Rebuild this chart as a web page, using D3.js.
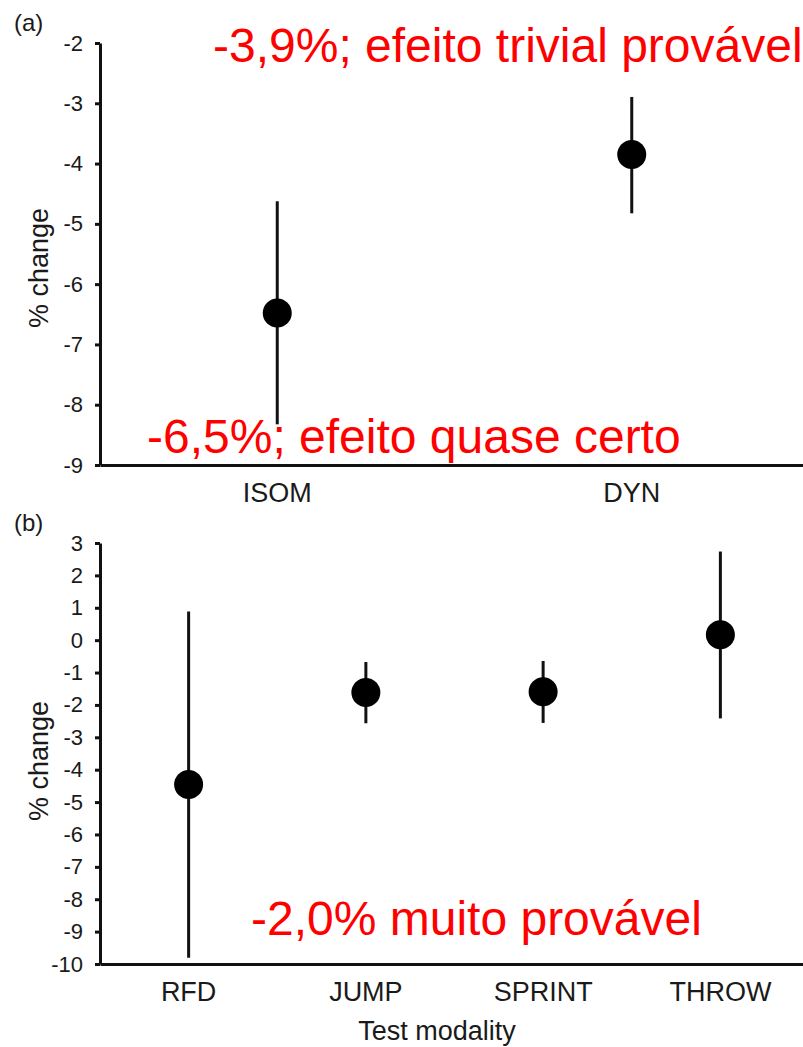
<!DOCTYPE html>
<html>
<head>
<meta charset="utf-8">
<script src="https://cdn.jsdelivr.net/npm/d3@7"></script>
<style>
  body { margin: 0; background: #fff; }
  svg { display: block; font-family: "Liberation Sans", Arial, sans-serif; }
  .axis path, .axis line { stroke: #111; stroke-width: 3px; }
  .axis text { fill: #1a1a1a; }
</style>
</head>
<body>
<div id="chart"></div>
<script>
// panel (a): isometric vs dynamic
const catsA = ["ISOM", "DYN"];
const meanA = [-6.48, -3.85];
const lowA = [-8.30, -4.80];
const highA = [-4.65, -2.92];
const ticksA = [-2, -3, -4, -5, -6, -7, -8, -9];

// panel (b): test modality
const catsB = ["RFD", "JUMP", "SPRINT", "THROW"];
const meanB = [-4.46, -1.62, -1.59, 0.17];
const lowB = [-9.76, -2.52, -2.51, -2.37];
const highB = [0.84, -0.72, -0.69, 2.69];
const ticksB = [3, 2, 1, 0, -1, -2, -3, -4, -5, -6, -7, -8, -9, -10];

const W = 803, H = 1047;

const svg = d3.select("#chart").append("svg")
    .attr("width", W)
    .attr("height", H);

function toRows(cats, mean, low, high) {
    return cats.map(function(c, i) {
        return { cat: c, mean: mean[i], low: low[i], high: high[i] };
    });
}

function panel(opts) {
    const data = toRows(opts.cats, opts.mean, opts.low, opts.high);

    const x = d3.scaleBand().domain(opts.cats).range([100, 809]);
    const y = d3.scaleLinear()
        .domain([d3.min(opts.ticks), d3.max(opts.ticks)])
        .range([opts.bottom, opts.top]);

    // y axis (plain hyphen for negatives, like the original)
    svg.append("g")
        .attr("class", "axis")
        .attr("transform", "translate(100,0)")
        .call(d3.axisLeft(y).tickValues(opts.ticks).tickFormat(d => String(d))
            .tickSize(5).tickSizeOuter(0).tickPadding(12))
        .call(g => g.selectAll("text").style("font-size", "22px"));

    // x axis
    svg.append("g")
        .attr("class", "axis")
        .attr("transform", "translate(0," + opts.bottom + ")")
        .call(d3.axisBottom(x).tickSize(0).tickSizeOuter(0).tickPadding(18))
        .call(g => g.selectAll("text").style("font-size", "27px"));

    // error bars
    svg.append("g").selectAll("line")
        .data(data)
        .enter()
        .append("line")
        .attr("x1", d => x(d.cat) + x.bandwidth() / 2)
        .attr("x2", d => x(d.cat) + x.bandwidth() / 2)
        .attr("y1", d => y(d.low))
        .attr("y2", d => y(d.high))
        .attr("stroke", "#111")
        .attr("stroke-width", 3)
        .attr("stroke-linecap", "square");

    // points
    svg.append("g").selectAll("circle")
        .data(data)
        .enter()
        .append("circle")
        .attr("cx", d => x(d.cat) + x.bandwidth() / 2)
        .attr("cy", d => y(d.mean))
        .attr("r", 14.5)
        .attr("fill", "#000");

    // y title
    svg.append("text")
        .attr("transform", "translate(48," + opts.titleY + ") rotate(-90)")
        .attr("text-anchor", "middle")
        .style("font-size", "27px")
        .attr("fill", "#1a1a1a")
        .text("% change");

    // panel letter
    svg.append("text")
        .attr("x", 14)
        .attr("y", opts.top - 12)
        .style("font-size", "24px")
        .attr("fill", "#1a1a1a")
        .text(opts.letter);
}

panel({ cats: catsA, mean: meanA, low: lowA, high: highA, ticks: ticksA,
        top: 43, bottom: 465, titleY: 268, letter: "(a)" });
panel({ cats: catsB, mean: meanB, low: lowB, high: highB, ticks: ticksB,
        top: 543, bottom: 964, titleY: 761, letter: "(b)" });

svg.append("text")
    .attr("x", 437)
    .attr("y", 1040)
    .attr("text-anchor", "middle")
    .style("font-size", "27px")
    .attr("fill", "#1a1a1a")
    .text("Test modality");

// red annotations
const notes = [
    { t: "-3,9%; efeito trivial provável", x: 213, y: 62 },
    { t: "-6,5%; efeito quase certo", x: 147, y: 453 },
    { t: "-2,0% muito provável", x: 251, y: 935 }
];
svg.append("g").selectAll("text")
    .data(notes)
    .enter()
    .append("text")
    .attr("x", d => d.x)
    .attr("y", d => d.y)
    .attr("fill", "#ff0000")
    .style("font-size", "48px")
    .text(d => d.t);
</script>
</body>
</html>
